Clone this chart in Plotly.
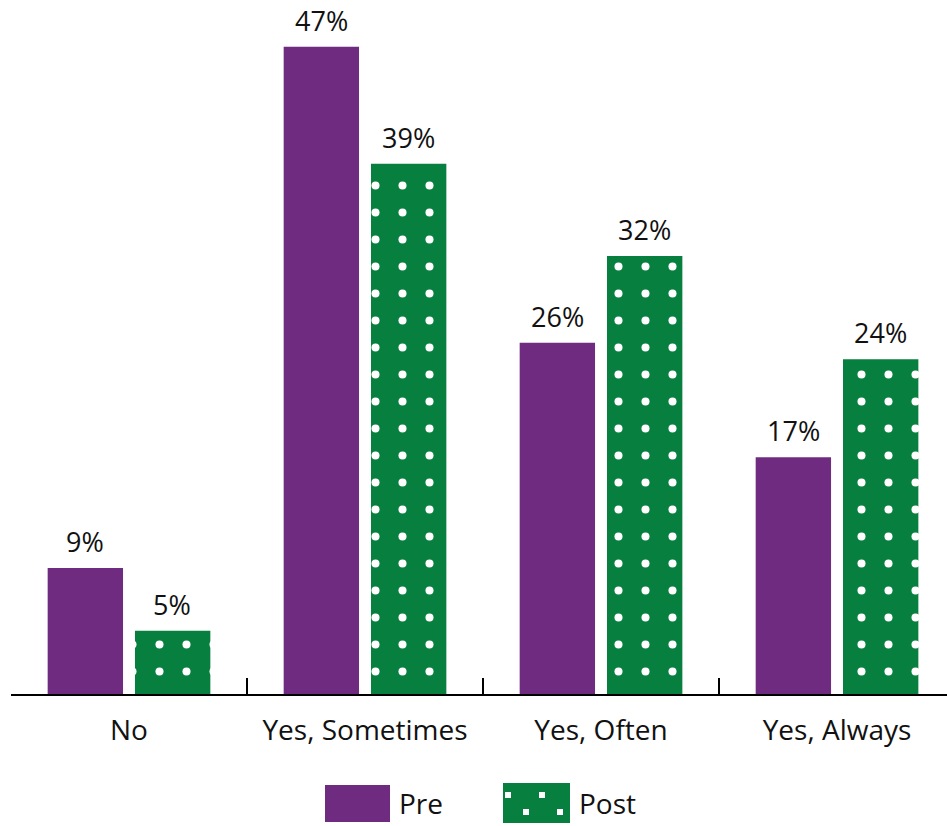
import plotly.graph_objects as go

categories = ["No", "Yes, Sometimes", "Yes, Often", "Yes, Always"]
pre_values = [9.15, 47.0, 25.5, 17.2]
post_values = [4.6, 38.5, 31.8, 24.3]
pre_labels = ["9%", "47%", "26%", "17%"]
post_labels = ["5%", "39%", "32%", "24%"]
boundary_ticks = [0.5, 1.5, 2.5]

PURPLE = "#6f2b80"
GREEN = "#077f3e"
FONT = "Open Sans"
TXT = "#111111"

fig = go.Figure()
fig.add_trace(go.Bar(
    x=categories, y=pre_values, name="Pre",
    marker=dict(color=PURPLE, line=dict(width=0)),
    showlegend=False,
))
fig.add_trace(go.Bar(
    x=categories, y=post_values, name="Post",
    marker=dict(color=GREEN, line=dict(width=0),
                pattern=dict(shape=".", fgcolor="white", bgcolor=GREEN,
                             size=27, solidity=0.07, fillmode="replace")),
    showlegend=False,
))
# empty trace so the overlaid tick axis is drawn
fig.add_trace(go.Scatter(x=[None], y=[None], xaxis="x2", yaxis="y",
                         mode="markers", showlegend=False, hoverinfo="skip"))

annotations = []
for i, c in enumerate(categories):
    annotations.append(dict(x=c, y=pre_values[i], xref="x", yref="y", text=pre_labels[i],
                            showarrow=False, yanchor="bottom", xshift=-44, yshift=6,
                            font=dict(family=FONT, size=27, color=TXT)))
    annotations.append(dict(x=c, y=post_values[i], xref="x", yref="y", text=post_labels[i],
                            showarrow=False, yanchor="bottom", xshift=43, yshift=6,
                            font=dict(family=FONT, size=27, color=TXT)))

W, H = 947, 826

shapes = [
    dict(type="rect", xref="paper", yref="paper", x0=(325-11)/936, x1=(390-11)/936,
         y0=-(785-694)/684, y1=-(822-694)/684, fillcolor=PURPLE, line=dict(width=0), layer="above"),
    dict(type="rect", xref="paper", yref="paper", x0=(503-11)/936, x1=(570-11)/936,
         y0=-(783-694)/684, y1=-(823-694)/684, fillcolor=GREEN, line=dict(width=0), layer="above"),
]
for (cx, cy) in [(508, 795), (542, 795), (526, 812), (560, 812)]:
    shapes.append(dict(type="rect", xref="paper", yref="paper",
                       x0=(cx-3-11)/936, x1=(cx+3-11)/936,
                       y0=-(cy-3-694)/684, y1=-(cy+3-694)/684,
                       fillcolor="white", line=dict(width=0), layer="above"))
annotations.append(dict(xref="paper", yref="paper", x=(397-11)/936, y=-(803-694)/684,
                        text="Pre", showarrow=False, xanchor="left", yanchor="middle",
                        font=dict(family=FONT, size=28, color=TXT)))
annotations.append(dict(xref="paper", yref="paper", x=(577-11)/936, y=-(803-694)/684,
                        text="Post", showarrow=False, xanchor="left", yanchor="middle",
                        font=dict(family=FONT, size=28, color=TXT)))

fig.update_layout(
    width=W, height=H,
    margin=dict(l=11, r=0, t=10, b=132),
    paper_bgcolor="white", plot_bgcolor="white",
    barmode="group", bargap=0.26, bargroupgap=0.137,
    font=dict(family=FONT, size=28, color=TXT),
    xaxis=dict(
        type="category", range=[-0.5, 3.466],
        showline=True, linecolor="black", linewidth=2,
        ticks="", showgrid=False, zeroline=False,
        tickfont=dict(family=FONT, size=28, color=TXT),
        ticklabelstandoff=10,
    ),
    xaxis2=dict(
        overlaying="x", anchor="y", range=[-0.5, 3.466], type="linear",
        tickvals=boundary_ticks, ticktext=["", "", ""],
        ticks="inside", ticklen=16, tickwidth=2, tickcolor="black",
        showgrid=False, zeroline=False, showline=False, showticklabels=False,
        side="bottom",
    ),
    yaxis=dict(range=[0, 49.67], visible=False, showgrid=False, zeroline=False),
    annotations=annotations,
    shapes=shapes,
    showlegend=False,
)

fig.write_html("out.html")
